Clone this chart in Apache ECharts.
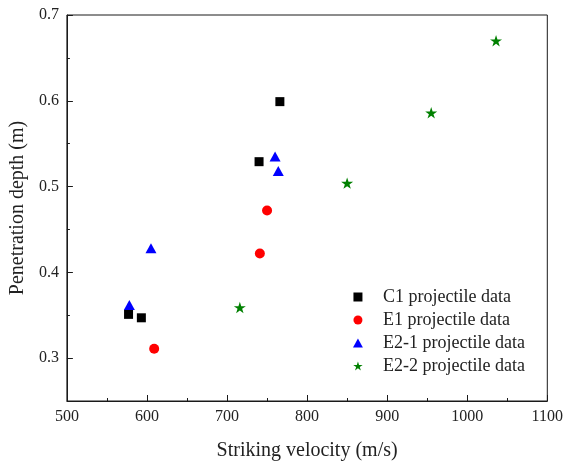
<!DOCTYPE html>
<html>
<head>
<meta charset="utf-8">
<script src="https://cdn.jsdelivr.net/npm/echarts@6/dist/echarts.min.js"></script>
<style>html,body{margin:0;padding:0;background:#fff;}#c{width:566px;height:466px;}</style>
</head>
<body>
<div id="c"></div>
<script>
const c1Data = [[577, 0.351], [593, 0.347], [740, 0.529], [766, 0.599]];
const e1Data = [[609, 0.311], [741, 0.422], [750, 0.472]];
const e21Data = [[578, 0.362], [605, 0.428], [760, 0.535], [764, 0.518]];
const e22Data = [[716, 0.359], [850, 0.504], [955, 0.586], [1036, 0.670]];
const seriesNames = ['C1 projectile data', 'E1 projectile data', 'E2-1 projectile data', 'E2-2 projectile data'];
const yMajorTicks = [0.3, 0.4, 0.5, 0.6, 0.7];
const yMinorTicks = [0.35, 0.45, 0.55, 0.65];

const FONT = '"Liberation Serif", "Times New Roman", serif';
const AX = '#1a1a1a';
const TXT = '#222';
const starPath = 'path://M50,0 L61.2,34.5 L97.6,34.5 L68.2,55.9 L79.4,90.5 L50,69.1 L20.6,90.5 L31.8,55.9 L2.4,34.5 L38.8,34.5 Z';
const squarePath = 'path://M0,0 L10,0 L10,10 L0,10 Z';
const trianglePath = 'path://M5.5,0 L11,10 L0,10 Z';

const chart = echarts.init(document.getElementById('c'), null, {renderer: 'canvas'});
chart.setOption({
  animation: false,
  backgroundColor: '#fff',
  textStyle: {fontFamily: FONT},
  grid: {left: 65, right: 17, top: 15, bottom: 59, show: true, borderColor: AX, borderWidth: 1, containLabel: false},
  legend: {
    orient: 'vertical', left: 348, top: 283,
    itemWidth: 40, itemHeight: 9, itemGap: 5,
    symbolKeepAspect: true,
    textStyle: {fontFamily: FONT, fontSize: 18, color: TXT},
    data: [
      {name: seriesNames[0], icon: squarePath},
      {name: seriesNames[1], icon: 'circle'},
      {name: seriesNames[2], icon: trianglePath},
      {name: seriesNames[3], icon: starPath}
    ]
  },
  xAxis: {
    type: 'value', min: 500, max: 1100, interval: 100,
    name: 'Striking velocity (m/s)', nameLocation: 'middle', nameGap: 40,
    nameTextStyle: {fontFamily: FONT, fontSize: 20, color: TXT},
    axisLine: {show: true, lineStyle: {color: AX, width: 1}},
    axisTick: {show: true, inside: true, length: 6, lineStyle: {color: AX, width: 1}},
    minorTick: {show: true, splitNumber: 2, length: 3, lineStyle: {color: AX, width: 1}},
    axisLabel: {fontFamily: FONT, fontSize: 16, color: TXT, margin: 8, formatter: v => String(v)},
    splitLine: {show: false}
  },
  yAxis: [{
    type: 'value', min: 0.25, max: 0.7, position: 'left',
    name: 'Penetration depth (m)', nameLocation: 'middle', nameGap: 28,
    nameTextStyle: {fontFamily: FONT, fontSize: 20, color: TXT},
    axisLine: {show: true, lineStyle: {color: AX, width: 1}},
    axisTick: {show: true, inside: true, length: 6, customValues: yMajorTicks, lineStyle: {color: AX, width: 1}},
    axisLabel: {fontFamily: FONT, fontSize: 16, color: TXT, margin: 8, customValues: yMajorTicks,
      formatter: v => Number(v).toFixed(1)},
    splitLine: {show: false}
  }, {
    type: 'value', min: 0.25, max: 0.7, position: 'left', offset: 0,
    axisLine: {show: false},
    axisTick: {show: true, inside: true, length: 3, customValues: yMinorTicks, lineStyle: {color: AX, width: 1}},
    axisLabel: {show: false, customValues: yMinorTicks},
    splitLine: {show: false}
  }],
  series: [
    {name: seriesNames[0], type: 'scatter', data: c1Data, symbol: 'rect', symbolKeepAspect: true, symbolSize: 9, itemStyle: {color: '#000000', opacity: 1}},
    {name: seriesNames[1], type: 'scatter', data: e1Data, symbol: 'circle', symbolKeepAspect: true, symbolSize: 10, itemStyle: {color: '#ff0000', opacity: 1}},
    {name: seriesNames[2], type: 'scatter', data: e21Data, symbol: 'triangle', symbolKeepAspect: true, symbolSize: [11, 10], itemStyle: {color: '#0000ff', opacity: 1}},
    {name: seriesNames[3], type: 'scatter', data: e22Data, symbol: starPath, symbolKeepAspect: true, symbolSize: 12, itemStyle: {color: '#008000', opacity: 1}}
  ]
});
</script>
</body>
</html>
